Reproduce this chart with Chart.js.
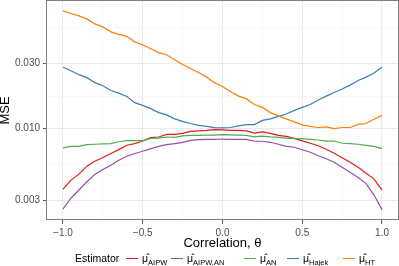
<!DOCTYPE html>
<html>
<head>
<meta charset="utf-8">
<script src="https://cdn.jsdelivr.net/npm/chart.js@4.4.1/dist/chart.umd.min.js"></script>
<style>
  html, body { margin: 0; padding: 0; background: #fff; }
  #wrap { position: relative; width: 399px; height: 266px; font-family: "Liberation Sans", Arial, sans-serif; }
  #legend { position: absolute; left: 0; top: 250px; width: 399px; height: 16px; font-size: 10.5px; line-height: 16px; color: #000; }
  #legend .txt { position: absolute; top: 0; white-space: nowrap; }
  #legend .key { position: absolute; top: 7.5px; width: 12px; height: 1.2px; }
  #legend sub { font-size: 7.5px; vertical-align: -2.5px; line-height: 0; }
</style>
</head>
<body>
<div id="wrap">
  <canvas id="myChart" width="399" height="266"></canvas>
  <div id="legend"></div>
</div>
<script>
// correlation theta (x)
const theta = [-1.00, -0.95, -0.90, -0.85, -0.80, -0.75, -0.70, -0.65, -0.60, -0.55,
  -0.50, -0.45, -0.40, -0.35, -0.30, -0.25, -0.20, -0.15, -0.10, -0.05,
  0.00, 0.05, 0.10, 0.15, 0.20, 0.25, 0.30, 0.35, 0.40, 0.45,
  0.50, 0.55, 0.60, 0.65, 0.70, 0.75, 0.80, 0.85, 0.90, 0.95, 1.00];

// MSE per estimator
const mseAIPW = [0.00360, 0.00421, 0.00465, 0.00532, 0.00578, 0.00615, 0.00658, 0.00703, 0.00756, 0.00778,
  0.00812, 0.00860, 0.00869, 0.00909, 0.00909, 0.00924, 0.00956, 0.00964, 0.00972, 0.00983,
  0.00980, 0.00972, 0.00972, 0.00964, 0.00929, 0.00948, 0.00924, 0.00894, 0.00879, 0.00850,
  0.00815, 0.00782, 0.00750, 0.00707, 0.00661, 0.00613, 0.00569, 0.00523, 0.00473, 0.00428, 0.00356];
const mseAIPWAN = [0.00258, 0.00310, 0.00356, 0.00409, 0.00463, 0.00503, 0.00541, 0.00588, 0.00629, 0.00658,
  0.00684, 0.00715, 0.00743, 0.00765, 0.00778, 0.00795, 0.00822, 0.00832, 0.00836, 0.00836,
  0.00840, 0.00836, 0.00836, 0.00836, 0.00809, 0.00809, 0.00795, 0.00769, 0.00743, 0.00731,
  0.00701, 0.00673, 0.00634, 0.00603, 0.00569, 0.00523, 0.00481, 0.00439, 0.00397, 0.00327, 0.00255];
const mseAN = [0.00723, 0.00743, 0.00743, 0.00765, 0.00769, 0.00775, 0.00778, 0.00802, 0.00818, 0.00818,
  0.00818, 0.00850, 0.00854, 0.00869, 0.00865, 0.00886, 0.00894, 0.00894, 0.00898, 0.00898,
  0.00904, 0.00901, 0.00898, 0.00894, 0.00872, 0.00883, 0.00872, 0.00864, 0.00854, 0.00846,
  0.00846, 0.00836, 0.00826, 0.00812, 0.00812, 0.00782, 0.00778, 0.00769, 0.00756, 0.00743, 0.00715];
const mseHajek = [0.0281, 0.0265, 0.0248, 0.0236, 0.0217, 0.0206, 0.0190, 0.0182, 0.0172, 0.0155,
  0.0148, 0.0140, 0.0131, 0.0126, 0.0118, 0.0113, 0.0109, 0.01057, 0.0104, 0.01017,
  0.01013, 0.0102, 0.01048, 0.0107, 0.0107, 0.0115, 0.0118, 0.0123, 0.0128, 0.0136,
  0.0143, 0.0150, 0.0162, 0.0173, 0.0184, 0.0195, 0.0208, 0.0225, 0.0238, 0.0255, 0.0281];
const mseHT = [0.0725, 0.0695, 0.0667, 0.0634, 0.0583, 0.0555, 0.0510, 0.0489, 0.0473, 0.0431,
  0.0410, 0.0384, 0.0359, 0.0347, 0.0319, 0.0294, 0.0275, 0.0257, 0.0238, 0.0217,
  0.0203, 0.0187, 0.0173, 0.0165, 0.0150, 0.0143, 0.0131, 0.0124, 0.0118, 0.0112,
  0.01066, 0.0104, 0.0102, 0.0103, 0.0100, 0.0102, 0.0102, 0.01075, 0.0109, 0.0117, 0.0125];

const seriesNames = ['AIPW', 'AIPW,AN', 'AN', 'Hajek', 'HT']; // subscripts of mu-hat
const seriesValues = [mseAIPW, mseAIPWAN, mseAN, mseHajek, mseHT];
const seriesColors = ['#E41A1C', '#984EA3', '#4DAF4A', '#377EB8', '#FF7F00'];

const xTickValues = [-1, -0.5, 0, 0.5, 1];
const xTickLabels = ['\u22121.0', '\u22120.5', '0.0', '0.5', '1.0'];
const yTickValues = [0.003, 0.01, 0.03];
const yTickLabels = ['0.003', '0.010', '0.030'];

const FONT = '"Liberation Sans", Arial, sans-serif';

// minor breaks halfway between majors (log space for y)
const xMinor = [-0.75, -0.25, 0.25, 0.75];
const yMinor = [Math.sqrt(0.003 * 0.01), Math.sqrt(0.01 * 0.03), Math.sqrt(0.03 * 0.1)];

const isMajorX = v => xTickValues.some(t => Math.abs(t - v) < 1e-9);
const isMajorY = v => yTickValues.some(t => Math.abs(t - v) < 1e-12);

const panelBorder = {
  id: 'panelBorder',
  afterDraw(chart) {
    const { ctx, chartArea: a } = chart;
    ctx.save();
    ctx.strokeStyle = '#7F7F7F';
    ctx.lineWidth = 1;
    ctx.strokeRect(a.left - 0.5, a.top - 0.5, a.right - a.left + 1, a.bottom - a.top);
    ctx.restore();
  }
};

const datasets = seriesValues.map((vals, i) => ({
  label: seriesNames[i],
  data: theta.map((t, j) => ({ x: t, y: vals[j] })),
  borderColor: seriesColors[i],
  borderWidth: 1.2,
  pointRadius: 0,
  tension: 0,
  fill: false,
  order: seriesValues.length - i
}));

const ctx = document.getElementById('myChart').getContext('2d');
const myChart = new Chart(ctx, {
  type: 'line',
  data: { datasets: datasets },
  options: {
    responsive: false,
    devicePixelRatio: 1,
    animation: false,
    layout: { padding: { top: 1, right: 1, left: 0, bottom: 0 } },
    plugins: { legend: { display: false }, tooltip: { enabled: false } },
    scales: {
      x: {
        type: 'linear',
        min: -1.1,
        max: 1.1,
        afterBuildTicks: s => { s.ticks = xTickValues.concat(xMinor).sort((a, b) => a - b).map(v => ({ value: v })); },
        afterFit: s => { s.height = 46; s.paddingLeft = 0; s.paddingRight = 0; },
        ticks: {
          autoSkip: false, maxRotation: 0, padding: 3,
          color: '#4D4D4D', font: { family: FONT, size: 10 },
          callback: v => { const k = xTickValues.findIndex(t => Math.abs(t - v) < 1e-9); return k < 0 ? '' : xTickLabels[k]; }
        },
        grid: {
          color: c => isMajorX(c.tick.value) ? '#EBEBEB' : '#F3F3F3',
          lineWidth: c => isMajorX(c.tick.value) ? 1.1 : 0.6,
          tickColor: c => isMajorX(c.tick.value) ? '#555555' : 'rgba(0,0,0,0)',
          tickLength: 4, tickWidth: 1
        },
        border: { display: false },
        title: {
          display: true, text: 'Correlation, \u03B8', color: '#000',
          font: { family: FONT, size: 13, lineHeight: 1 }, padding: { top: 0, bottom: 16 }
        }
      },
      y: {
        type: 'logarithmic',
        min: 0.00215,
        max: 0.0857,
        afterBuildTicks: s => { s.ticks = yTickValues.concat(yMinor).sort((a, b) => a - b).map(v => ({ value: v })); },
        afterFit: s => { s.width = 47; s.paddingTop = 0; s.paddingBottom = 0; },
        ticks: {
          autoSkip: false, padding: 3,
          color: '#4D4D4D', font: { family: FONT, size: 10 },
          callback: v => { const k = yTickValues.findIndex(t => Math.abs(t - v) < 1e-12); return k < 0 ? '' : yTickLabels[k]; }
        },
        grid: {
          color: c => isMajorY(c.tick.value) ? '#EBEBEB' : '#F3F3F3',
          lineWidth: c => isMajorY(c.tick.value) ? 1.1 : 0.6,
          tickColor: c => isMajorY(c.tick.value) ? '#555555' : 'rgba(0,0,0,0)',
          tickLength: 4, tickWidth: 1
        },
        border: { display: false },
        title: {
          display: true, text: 'MSE', color: '#000',
          font: { family: FONT, size: 13, lineHeight: 0.8 }, padding: 0
        }
      }
    }
  },
  plugins: [panelBorder]
});

// legend below the panel, built as html so the subscripts stay real text
const legendKeyX = [126, 171, 244, 287, 343];
const legend = document.getElementById('legend');
legend.innerHTML = '<span class="txt" style="left:75px">Estimator</span>' +
  seriesNames.map((name, i) =>
    '<span class="key" style="left:' + legendKeyX[i] + 'px;background:' + seriesColors[i] + '"></span>' +
    '<span class="txt" style="left:' + (legendKeyX[i] + 16) + 'px">\u03BC\u0302<sub>' + name + '</sub></span>'
  ).join('');
</script>
</body>
</html>
